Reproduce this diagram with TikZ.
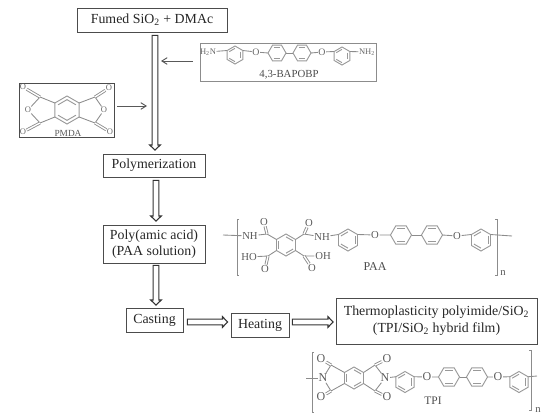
\documentclass[tikz,border=0pt]{standalone}
\usepackage{fontspec}
\setmainfont{Liberation Serif}
\usetikzlibrary{arrows.meta,calc}
\tikzset{
  stepbox/.style={draw=black!70,line width=.65pt,align=center,inner sep=0pt,font=\fontsize{10.4pt}{12.5pt}\selectfont,text=black!85},
  fat/.style={draw=black!80,fill=white,line width=.8pt,line join=miter},
  thinarrow/.style={draw=black!65,line width=.7pt,-{Straight Barb[length=4pt,width=5pt]}},
  bond/.style={draw=black!45,line width=.65pt},
  ringline/.style={draw=black!40,line width=.7pt},
  atom/.style={inner sep=.4pt,font=\fontsize{8pt}{9pt}\selectfont,text=black!65},
  atomb/.style={inner sep=.4pt,font=\fontsize{9pt}{10pt}\selectfont,text=black!65},
  atomsm/.style={inner sep=.3pt,font=\fontsize{7.4pt}{8pt}\selectfont,text=black!60},
  atomxs/.style={inner sep=.3pt,font=\fontsize{6.4pt}{8pt}\selectfont,text=black!60},
  lab/.style={inner sep=0pt,font=\fontsize{8.6pt}{9pt}\selectfont,text=black!70},
  labsm/.style={inner sep=0pt,font=\fontsize{7pt}{8pt}\selectfont,text=black!65}
}
% closed outline arrow between two named coordinates
\newcommand{\fatarrow}[2]{%
  \coordinate (fan) at ($(#2)!3.8pt!(#1)$);
  \draw[fat] ($(#1)!2.2pt!90:(#2)$) -- ($(fan)!2.2pt!90:(#2)$) -- ($(fan)!4pt!90:(#2)$) -- (#2) -- ($(fan)!4pt!-90:(#2)$) -- ($(fan)!2.2pt!-90:(#2)$) -- ($(#1)!2.2pt!-90:(#2)$) -- cycle;}
\newcommand{\dblb}[3]{\draw[ringline] ($(#1C)!.74!(#1#2)$) -- ($(#1C)!.74!(#1#3)$);}
% pointy-top ring: name, x, y, r
\newcommand{\pring}[4]{%
  \coordinate (#1C) at (#2,#3);
  \coordinate (#1T) at (#2,#3-#4);
  \coordinate (#1UR) at (#2+.866*#4,#3-.5*#4);
  \coordinate (#1LR) at (#2+.866*#4,#3+.5*#4);
  \coordinate (#1B) at (#2,#3+#4);
  \coordinate (#1LL) at (#2-.866*#4,#3+.5*#4);
  \coordinate (#1UL) at (#2-.866*#4,#3-.5*#4);
  \draw[ringline] (#1T)--(#1UR)--(#1LR)--(#1B)--(#1LL)--(#1UL)--cycle;}
% flat-top ring
\newcommand{\fring}[4]{%
  \coordinate (#1C) at (#2,#3);
  \coordinate (#1L) at (#2-#4,#3);
  \coordinate (#1UL) at (#2-.5*#4,#3-.866*#4);
  \coordinate (#1UR) at (#2+.5*#4,#3-.866*#4);
  \coordinate (#1R) at (#2+#4,#3);
  \coordinate (#1LR) at (#2+.5*#4,#3+.866*#4);
  \coordinate (#1LL) at (#2-.5*#4,#3+.866*#4);
  \draw[ringline] (#1L)--(#1UL)--(#1UR)--(#1R)--(#1LR)--(#1LL)--cycle;
  \dblb{#1}{UL}{UR}\dblb{#1}{LL}{LR}}
\newcommand{\mring}[4]{\pring{#1}{#2}{#3}{#4}\dblb{#1}{UR}{LR}\dblb{#1}{B}{LL}\dblb{#1}{UL}{T}}
\begin{document}
\begin{tikzpicture}[x=.75pt,y=-.75pt]
\useasboundingbox (0,0) rectangle (554,418);
% process boxes
\node[stepbox,minimum width=112.5pt,minimum height=18pt] (fumed) at (152,20) {Fumed SiO\textsubscript{2} + DMAc};
\node[stepbox,minimum width=76.5pt,minimum height=17.25pt] (polym) at (154,165.5) {Polymerization};
\node[stepbox,minimum width=76.5pt,minimum height=28.5pt] (paa) at (154,244) {Poly(amic acid)\\(PAA solution)};
\node[stepbox,minimum width=42.75pt,minimum height=18pt] (cast) at (154.5,320) {Casting};
\node[stepbox,minimum width=43.5pt,minimum height=18pt] (heat) at (260,325) {Heating};
\node[stepbox,minimum width=150.75pt,minimum height=34.5pt] (film) at (436.5,321) {Thermoplasticity polyimide/SiO\textsubscript{2}\\(TPI/SiO\textsubscript{2} hybrid film)};
\node[draw=black!45,line width=.7pt,minimum width=132pt,minimum height=28.5pt,inner sep=0pt] (bapo) at (288,62) {};
\node[draw=black!70,line width=.7pt,minimum width=71.25pt,minimum height=40.5pt,inner sep=0pt] (pmda) at (66.5,110) {};
% double arrows
\coordinate (a1s) at ($(fumed.south)+(3,3)$);
\coordinate (a1e) at ($(polym.north)+(1,-3.5)$);
\coordinate (a2s) at ($(polym.south)+(2,3)$);
\coordinate (a2e) at ($(paa.north)+(2,-3.5)$);
\coordinate (a3s) at ($(paa.south)+(2,2)$);
\coordinate (a3e) at ($(cast.north)+(1.5,-2.5)$);
\coordinate (a4s) at ($(cast.east)+(4,2)$);
\coordinate (a4e) at ($(heat.west)+(-3,-3)$);
\coordinate (a5s) at ($(heat.east)+(3,-3)$);
\coordinate (a5e) at ($(film.west |- heat)+(-2.5,-3)$);
\fatarrow{a1s}{a1e}
\fatarrow{a2s}{a2e}
\fatarrow{a3s}{a3e}
\fatarrow{a4s}{a4e}
\fatarrow{a5s}{a5e}
% side arrows
\coordinate (j1) at (161,61);
\coordinate (j2s) at (117,106);
\coordinate (j2) at (147,106);
\draw[thinarrow,shorten <=5pt] (bapo.west |- j1) -- (j1);
\draw[thinarrow] (j2s) -- (j2);

% 4,3-BAPOBP
\node[atomxs] (bn1) at (208,52) {H\textsubscript{2}N};
\node[atomxs] (bn2) at (367,52) {NH\textsubscript{2}};
\node[atomsm] (bo1) at (256,52) {O};
\node[atomsm] (bo2) at (322,52) {O};
\mring{ba}{235}{55}{9}
\fring{bb}{277}{53}{9}
\fring{bc}{302}{53}{9}
\mring{bd}{342}{56}{9}
\draw[bond] (bn1) -- (baUL);
\draw[bond] (baUR) -- (bo1);
\draw[bond] (bo1) -- (bbL);
\draw[bond] (bbR) -- (bcL);
\draw[bond] (bcR) -- (bo2);
\draw[bond] (bo2) -- (bdUL);
\draw[bond] (bdUR) -- (bn2);
\node[lab] (blab) at (289,75) {\fontsize{8.1pt}{9pt}\selectfont 4,3-BAPOBP};

% PMDA
\pring{pa}{67}{110}{14}
\dblb{pa}{UL}{T}\dblb{pa}{UR}{T}\dblb{pa}{LL}{B}\dblb{pa}{LR}{B}
\node[atomxs] (po1) at (23,87) {O};
\node[atomxs] (po2) at (23,132) {O};
\node[atomxs] (po3) at (28,110) {O};
\node[atomxs] (po4) at (109,88) {O};
\node[atomxs] (po5) at (110,132) {O};
\node[atomxs] (po6) at (104,110) {O};
\coordinate (pc1) at (40,97);
\coordinate (pc2) at (40,123);
\coordinate (pc3) at (95,97);
\coordinate (pc4) at (95,123);
\draw[bond] (paUL) -- (pc1) -- (po3) -- (pc2) -- (paLL);
\draw[bond] (paUR) -- (pc3) -- (po6) -- (pc4) -- (paLR);
\draw[bond,double,double distance=1pt] (pc1) -- (po1);
\draw[bond,double,double distance=1pt] (pc2) -- (po2);
\draw[bond,double,double distance=1pt] (pc3) -- (po4);
\draw[bond,double,double distance=1pt] (pc4) -- (po5);
\node[labsm] (plab) at (68,133) {PMDA};

% PAA structure
\draw[bond] (239,219) -- (237,219) -- (237,275) -- (239,275);
\draw[bond] (495,219) -- (497,219) -- (497,275) -- (495,275);
\node[atom] (n) at (503,273) {n};
\coordinate (s1) at (223,235);
\coordinate (s2) at (512,236);
\node[atom] (an1) at (250,236) {NH};
\node[atom] (an2) at (322,237) {NH};
\node[atom] (ao1) at (264,222) {O};
\node[atom] (ao2) at (309,223) {O};
\node[atom] (ao3) at (265,269) {O};
\node[atom] (ao4) at (312,268) {O};
\node[atom] (ah1) at (249,257) {HO};
\node[atom] (ah2) at (323,256) {OH};
\node[atom] (ao5) at (375,235) {O};
\node[atom] (ao6) at (457,236) {O};
\pring{ca}{286}{245}{11}
\dblb{ca}{UL}{LL}\dblb{ca}{UR}{T}\dblb{ca}{LR}{B}
\coordinate (cc1) at (267,234);
\coordinate (cc2) at (304,234);
\coordinate (cc3) at (268,256);
\coordinate (cc4) at (304,256);
\draw[bond] (s1) -- (an1);
\draw[bond] (an1) -- (cc1) -- (caUL);
\draw[bond] (an2) -- (cc2) -- (caUR);
\draw[bond] (ah1) -- (cc3) -- (caLL);
\draw[bond] (ah2) -- (cc4) -- (caLR);
\draw[bond,double,double distance=1pt] (cc1) -- (ao1);
\draw[bond,double,double distance=1pt] (cc2) -- (ao2);
\draw[bond,double,double distance=1pt] (cc3) -- (ao3);
\draw[bond,double,double distance=1pt] (cc4) -- (ao4);
\mring{cb}{348}{240}{11}
\fring{cd}{401}{235}{10.5}
\fring{ce}{432}{235}{10.5}
\mring{cf}{481}{240}{11}
\draw[bond] (an2) -- (cbUL);
\draw[bond] (cbUR) -- (ao5) -- (cdL);
\draw[bond] (cdR) -- (ceL);
\draw[bond] (ceR) -- (ao6) -- (cfUL);
\draw[bond] (cfUR) -- (s2);
\node[lab] (alab) at (375,267) {\fontsize{9pt}{10pt}\selectfont PAA};

% TPI structure
\draw[bond] (314,352) -- (312,352) -- (312,412) -- (314,412);
\draw[bond] (529,350) -- (531,350) -- (531,410) -- (529,410);
\node[atom] (n2) at (538,410) {n};
\coordinate (t1) at (306,378);
\coordinate (t2) at (537,376);
\node[atomb] (tn1) at (323,378) {N};
\node[atomb] (tn2) at (385,378) {N};
\node[atomb] (to1) at (321,359) {O};
\node[atomb] (to2) at (321,397) {O};
\node[atomb] (to3) at (387,359) {O};
\node[atomb] (to4) at (387,397) {O};
\node[atomb] (to5) at (427,377) {O};
\node[atomb] (to6) at (498,377) {O};
\pring{ta}{354}{378}{11}
\dblb{ta}{UL}{LL}\dblb{ta}{UR}{T}\dblb{ta}{LR}{B}
\coordinate (tc1) at (331,365);
\coordinate (tc2) at (331,391);
\coordinate (tc3) at (375,365);
\coordinate (tc4) at (375,391);
\draw[bond] (t1) -- (tn1);
\draw[bond] (tn1) -- (tc1) -- (taUL);
\draw[bond] (tn1) -- (tc2) -- (taLL);
\draw[bond] (tn2) -- (tc3) -- (taUR);
\draw[bond] (tn2) -- (tc4) -- (taLR);
\draw[bond,double,double distance=1pt] (tc1) -- (to1);
\draw[bond,double,double distance=1pt] (tc2) -- (to2);
\draw[bond,double,double distance=1pt] (tc3) -- (to3);
\draw[bond,double,double distance=1pt] (tc4) -- (to4);
\mring{tb}{405}{382}{10.5}
\fring{td}{449}{377}{10.5}
\fring{te}{477}{377}{10.5}
\mring{tf}{519}{382}{10.5}
\draw[bond] (tn2) -- (tbUL);
\draw[bond] (tbUR) -- (to5) -- (tdL);
\draw[bond] (tdR) -- (teL);
\draw[bond] (teR) -- (to6) -- (tfUL);
\draw[bond] (tfUR) -- (t2);
\node[lab] (tlab) at (433,401) {TPI};
\end{tikzpicture}
\end{document}
